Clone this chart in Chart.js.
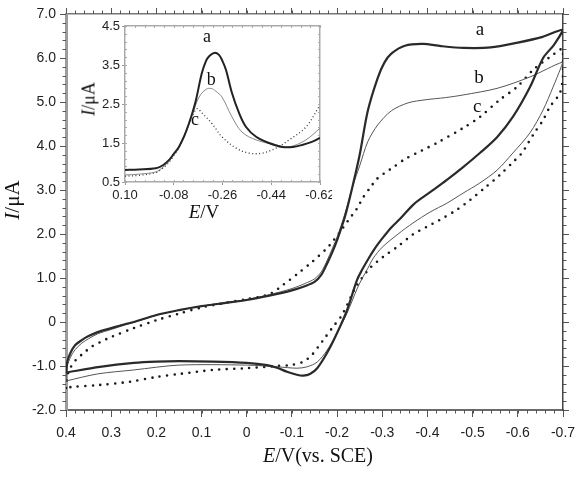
<!DOCTYPE html>
<html>
<head>
<meta charset="utf-8">
<script src="https://cdn.jsdelivr.net/npm/chart.js@4.4.0/dist/chart.umd.min.js"></script>
<style>
  body { margin: 0; background: #fff; }
  #wrap { position: relative; width: 576px; height: 478px; overflow: hidden; background: #fff; }
  #mainChart { position: absolute; left: 0; top: 0; }
  #insetChart { position: absolute; left: 70px; top: 20px; }
  .lbl { position: absolute; font-family: "Liberation Serif", "Times New Roman", serif; color: #111;
         white-space: nowrap; transform: translate(-50%, -50%); }
  .lbl i { font-style: italic; }
  .rot { transform: translate(-50%, -50%) rotate(-90deg); }
</style>
</head>
<body>
<div id="wrap">
  <canvas id="mainChart" width="576" height="478"></canvas>
  <canvas id="insetChart" width="262" height="210"></canvas>
  <div class="lbl" style="left:318px; top:455px; font-size:20px;"><i>E</i>/V(vs. SCE)</div>
  <div class="lbl rot" style="left:12px; top:200px; font-size:21px;"><i>I</i>/μA</div>
  <div class="lbl rot" style="left:89px; top:99px; font-size:18px;"><i>I</i>/μA</div>
  <div class="lbl" style="left:204px; top:212px; font-size:19px;"><i>E</i>/V</div>
</div>
<script>
// main CV curves, [E (V), I (uA)], forward scan then reverse scan
const curveA = [
  [0.400,-1.15],[0.397,-0.90],[0.390,-0.70],[0.380,-0.53],[0.365,-0.41],[0.350,-0.32],[0.330,-0.23],
  [0.300,-0.14],[0.270,-0.05],[0.250,0.00],[0.200,0.16],[0.150,0.27],[0.100,0.36],[0.050,0.43],
  [0.000,0.50],[-0.050,0.60],[-0.100,0.72],[-0.130,0.82],[-0.150,0.91],[-0.165,1.07],[-0.178,1.33],
  [-0.190,1.60],[-0.200,1.86],[-0.217,2.38],[-0.235,3.12],[-0.250,3.80],[-0.268,4.80],[-0.290,5.55],
  [-0.305,5.90],[-0.320,6.10],[-0.350,6.28],[-0.390,6.32],[-0.430,6.27],[-0.480,6.23],[-0.540,6.24],
  [-0.600,6.35],[-0.655,6.48],[-0.700,6.64],
  [-0.680,6.30],[-0.656,6.00],[-0.627,5.34],[-0.589,4.66],[-0.554,4.20],[-0.516,3.84],[-0.479,3.52],
  [-0.443,3.23],[-0.406,2.95],[-0.370,2.68],[-0.340,2.35],[-0.320,2.15],[-0.300,1.90],[-0.284,1.68],
  [-0.270,1.45],[-0.255,1.18],[-0.244,0.95],[-0.222,0.27],[-0.200,-0.25],[-0.178,-0.70],[-0.156,-1.05],
  [-0.140,-1.18],[-0.125,-1.22],[-0.111,-1.20],[-0.089,-1.13],[-0.067,-1.04],[-0.045,-0.98],[0.000,-0.93],
  [0.075,-0.90],[0.150,-0.89],[0.200,-0.90],[0.250,-0.93],[0.325,-1.02],[0.400,-1.15]
];
const curveB = [
  [0.400,-1.34],[0.397,-1.00],[0.390,-0.80],[0.380,-0.63],[0.365,-0.48],[0.350,-0.38],[0.330,-0.27],
  [0.300,-0.17],[0.270,-0.07],[0.250,-0.01],[0.200,0.15],[0.150,0.27],[0.100,0.36],[0.050,0.44],
  [0.000,0.51],[-0.050,0.62],[-0.100,0.76],[-0.130,0.88],[-0.150,0.98],[-0.165,1.14],[-0.178,1.40],
  [-0.190,1.68],[-0.200,1.93],[-0.217,2.45],[-0.235,3.10],[-0.250,3.55],[-0.268,4.10],[-0.290,4.48],
  [-0.320,4.80],[-0.357,4.98],[-0.395,5.05],[-0.440,5.10],[-0.479,5.16],[-0.554,5.31],[-0.627,5.57],
  [-0.700,5.91],
  [-0.695,5.77],[-0.678,5.34],[-0.656,4.82],[-0.627,4.30],[-0.589,3.84],[-0.554,3.45],[-0.516,3.16],
  [-0.479,2.93],[-0.443,2.70],[-0.406,2.50],[-0.368,2.25],[-0.335,2.00],[-0.300,1.70],[-0.280,1.45],
  [-0.268,1.22],[-0.255,0.98],[-0.244,0.75],[-0.222,0.20],[-0.200,-0.25],[-0.178,-0.64],[-0.156,-0.91],
  [-0.133,-1.02],[-0.111,-1.05],[-0.070,-1.02],[0.000,-0.98],[0.150,-0.98],[0.250,-1.09],[0.330,-1.18],
  [0.400,-1.34]
];
const curveC = [
  [0.400,-1.50],[0.398,-1.30],[0.393,-1.09],[0.378,-0.86],[0.360,-0.70],[0.345,-0.57],[0.325,-0.46],
  [0.300,-0.34],[0.250,-0.14],[0.200,0.04],[0.150,0.19],[0.100,0.33],[0.050,0.43],[0.000,0.52],
  [-0.050,0.63],[-0.080,0.84],[-0.113,1.10],[-0.144,1.36],[-0.178,1.68],[-0.191,1.84],[-0.206,2.04],
  [-0.224,2.30],[-0.244,2.58],[-0.257,2.82],[-0.273,3.05],[-0.288,3.25],[-0.306,3.39],[-0.322,3.50],
  [-0.350,3.70],[-0.388,3.90],[-0.421,4.07],[-0.479,4.41],[-0.516,4.66],[-0.560,5.05],[-0.598,5.34],
  [-0.634,5.73],[-0.671,6.02],[-0.700,6.20],
  [-0.700,5.60],[-0.693,5.20],[-0.671,4.89],[-0.656,4.59],[-0.638,4.32],[-0.623,4.07],[-0.609,3.84],
  [-0.594,3.68],[-0.560,3.34],[-0.527,3.05],[-0.494,2.77],[-0.465,2.55],[-0.427,2.32],[-0.398,2.16],
  [-0.368,1.99],[-0.335,1.72],[-0.302,1.48],[-0.273,1.23],[-0.255,1.00],[-0.240,0.77],[-0.211,0.16],
  [-0.191,-0.11],[-0.173,-0.36],[-0.158,-0.57],[-0.144,-0.75],[-0.124,-0.91],[-0.095,-0.98],[-0.067,-1.00],
  [0.000,-1.05],[0.075,-1.09],[0.148,-1.18],[0.200,-1.25],[0.260,-1.36],[0.325,-1.43],[0.390,-1.48],
  [0.400,-1.50]
];

// inset DPV curves
const dpvA = [
  [0.100,0.81],[0.050,0.82],[-0.014,0.85],[-0.040,0.93],[-0.062,1.06],[-0.080,1.22],[-0.099,1.40],
  [-0.120,1.70],[-0.136,2.00],[-0.150,2.30],[-0.162,2.60],[-0.184,3.30],[-0.200,3.62],[-0.210,3.72],
  [-0.229,3.81],[-0.247,3.76],[-0.260,3.60],[-0.273,3.37],[-0.295,2.78],[-0.321,2.27],[-0.347,1.91],
  [-0.384,1.66],[-0.432,1.50],[-0.480,1.40],[-0.520,1.40],[-0.554,1.45],[-0.590,1.53],[-0.620,1.63]
];
const dpvB = [
  [0.100,0.68],[0.050,0.70],[-0.014,0.76],[-0.040,0.88],[-0.062,1.02],[-0.080,1.20],[-0.099,1.38],
  [-0.120,1.68],[-0.136,1.98],[-0.150,2.25],[-0.165,2.55],[-0.180,2.75],[-0.200,2.88],[-0.218,2.90],
  [-0.235,2.83],[-0.258,2.68],[-0.295,2.17],[-0.332,1.78],[-0.384,1.58],[-0.458,1.45],[-0.506,1.40],
  [-0.568,1.58],[-0.620,1.88]
];
const dpvC = [
  [0.100,0.65],[0.050,0.67],[-0.014,0.74],[-0.040,0.86],[-0.062,1.00],[-0.080,1.18],[-0.099,1.38],
  [-0.120,1.70],[-0.136,2.00],[-0.150,2.22],[-0.166,2.38],[-0.184,2.27],[-0.221,2.00],[-0.258,1.66],
  [-0.310,1.37],[-0.358,1.24],[-0.406,1.24],[-0.458,1.37],[-0.506,1.58],[-0.568,1.91],[-0.620,2.47]
];

const xTickValues = [0.4, 0.3, 0.2, 0.1, 0, -0.1, -0.2, -0.3, -0.4, -0.5, -0.6, -0.7];
const xTickLabels = ['0.4','0.3','0.2','0.1','0','-0.1','-0.2','-0.3','-0.4','-0.5','-0.6','-0.7'];
const yTickValues = [7, 6, 5, 4, 3, 2, 1, 0, -1, -2];
const yTickLabels = ['7.0','6.0','5.0','4.0','3.0','2.0','1.0','0','-1.0','-2.0'];
const insetXTickValues = [0.10, -0.08, -0.26, -0.44, -0.62];
const insetXTickLabels = ['0.10','-0.08','-0.26','-0.44','-0.62'];
const insetYTickValues = [4.5, 3.5, 2.5, 1.5, 0.5];
const insetYTickLabels = ['4.5','3.5','2.5','1.5','0.5'];

const toXY = arr => arr.map(p => ({ x: p[0], y: p[1] }));

// small ticks between the labelled ones, drawn on the chart area edges
const minorTicks = {
  id: 'minorTicks',
  afterDraw(chart, args, opts) {
    const ctx = chart.ctx;
    const area = chart.chartArea;
    ctx.save();
    ctx.strokeStyle = opts.color;
    ctx.lineWidth = 1;
    opts.axes.forEach(a => {
      const s = chart.scales[a.scale];
      const n = Math.round((s.max - s.min) / a.step);
      for (let i = 0; i <= n; i++) {
        const p = Math.round(s.getPixelForValue(s.min + i * a.step)) + 0.5;
        ctx.beginPath();
        if (a.side === 'bottom') { ctx.moveTo(p, area.bottom); ctx.lineTo(p, area.bottom + a.len); }
        if (a.side === 'top') { ctx.moveTo(p, area.top); ctx.lineTo(p, area.top - a.len); }
        if (a.side === 'left') { ctx.moveTo(area.left, p); ctx.lineTo(area.left - a.len, p); }
        if (a.side === 'right') { ctx.moveTo(area.right, p); ctx.lineTo(area.right + a.len, p); }
        ctx.stroke();
      }
    });
    ctx.restore();
  }
};

// the a / b / c tags next to the curves
const curveLabels = {
  id: 'curveLabels',
  afterDatasetsDraw(chart, args, opts) {
    const ctx = chart.ctx;
    const x = chart.scales.x, y = chart.scales.y;
    ctx.save();
    ctx.font = opts.font;
    ctx.fillStyle = '#111';
    ctx.textAlign = 'center';
    ctx.textBaseline = 'middle';
    opts.items.forEach(it => ctx.fillText(it.text, x.getPixelForValue(it.e), y.getPixelForValue(it.i)));
    ctx.restore();
  }
};

function fixedSize(w, h) {
  return function(s) {
    if (w !== null) s.width = w;
    if (h !== null) s.height = h;
    s.paddingLeft = 0; s.paddingRight = 0; s.paddingTop = 0; s.paddingBottom = 0;
  };
}

function setTicks(values) {
  return function(s) { s.ticks = values.map(v => ({ value: v })); };
}

const tickFont = { family: '"Liberation Sans", Arial, sans-serif', size: 14 };

new Chart(document.getElementById('mainChart'), {
  type: 'scatter',
  data: {
    datasets: [
      { data: toXY(curveA), showLine: true, borderColor: '#2a2a2a', borderWidth: 2.2, pointRadius: 0, tension: 0.3 },
      { data: toXY(curveB), showLine: true, borderColor: '#555', borderWidth: 1, pointRadius: 0, tension: 0.3 },
      { data: toXY(curveC), showLine: true, borderColor: '#1a1a1a', borderWidth: 2.6, pointRadius: 0, tension: 0.3,
        borderDash: [0, 7.5], borderCapStyle: 'round' }
    ]
  },
  options: {
    responsive: false,
    animation: false,
    devicePixelRatio: 1,
    layout: { padding: 0 },
    plugins: {
      legend: { display: false },
      tooltip: { enabled: false },
      minorTicks: {
        color: '#555',
        axes: [
          { scale: 'x', side: 'bottom', step: 0.02, len: 3.5 },
          { scale: 'x', side: 'top', step: 0.02, len: 3.5 },
          { scale: 'y', side: 'left', step: 0.2, len: 3.5 },
          { scale: 'y', side: 'right', step: 0.2, len: 3.5 }
        ]
      },
      curveLabels: {
        font: '19px "Liberation Serif", "Times New Roman", serif',
        items: [
          { text: 'a', e: -0.516, i: 6.64 },
          { text: 'b', e: -0.514, i: 5.55 },
          { text: 'c', e: -0.51, i: 4.89 }
        ]
      }
    },
    scales: {
      x: {
        type: 'linear', position: 'bottom', min: -0.7, max: 0.4, reverse: true,
        afterBuildTicks: setTicks(xTickValues), afterFit: fixedSize(null, 68),
        ticks: { font: tickFont, color: '#222', padding: 8, maxRotation: 0,
                 callback: (v, i) => xTickLabels[i] },
        grid: { drawOnChartArea: false, tickLength: 7, tickColor: '#555' },
        border: { color: '#6a6a6a', width: 2 }
      },
      x2: {
        type: 'linear', position: 'top', min: -0.7, max: 0.4, reverse: true,
        afterBuildTicks: setTicks(xTickValues), afterFit: fixedSize(null, 14),
        ticks: { display: false },
        grid: { drawOnChartArea: false, tickLength: 6, tickColor: '#555' },
        border: { color: '#777', width: 1.5 }
      },
      y: {
        type: 'linear', position: 'left', min: -2, max: 7,
        afterBuildTicks: setTicks(yTickValues), afterFit: fixedSize(66, null),
        ticks: { font: tickFont, color: '#222', padding: 4,
                 callback: (v, i) => yTickLabels[i] },
        grid: { drawOnChartArea: false, tickLength: 6, tickColor: '#555' },
        border: { color: '#9c9c9c', width: 3 }
      },
      y2: {
        type: 'linear', position: 'right', min: -2, max: 7,
        afterBuildTicks: setTicks(yTickValues), afterFit: fixedSize(13, null),
        ticks: { display: false },
        grid: { drawOnChartArea: false, tickLength: 6, tickColor: '#555' },
        border: { color: '#444', width: 1.5 }
      }
    }
  },
  plugins: [minorTicks, curveLabels]
});

const insetFont = { family: '"Liberation Sans", Arial, sans-serif', size: 13 };

new Chart(document.getElementById('insetChart'), {
  type: 'scatter',
  data: {
    datasets: [
      { data: toXY(dpvA), showLine: true, borderColor: '#222', borderWidth: 2, pointRadius: 0, tension: 0.35 },
      { data: toXY(dpvB), showLine: true, borderColor: '#888', borderWidth: 1, pointRadius: 0, tension: 0.35 },
      { data: toXY(dpvC), showLine: true, borderColor: '#333', borderWidth: 1.3, pointRadius: 0, tension: 0.35,
        borderDash: [1, 2.5] }
    ]
  },
  options: {
    responsive: false,
    animation: false,
    devicePixelRatio: 1,
    layout: { padding: 0 },
    plugins: {
      legend: { display: false },
      tooltip: { enabled: false },
      minorTicks: {
        color: '#aaa',
        axes: [
          { scale: 'x', side: 'bottom', step: 0.036, len: -2 },
          { scale: 'x', side: 'top', step: 0.036, len: -2 },
          { scale: 'y', side: 'left', step: 0.2, len: -2 },
          { scale: 'y', side: 'right', step: 0.2, len: -2 }
        ]
      },
      curveLabels: {
        font: '18px "Liberation Serif", "Times New Roman", serif',
        items: [
          { text: 'a', e: -0.203, i: 4.22 },
          { text: 'b', e: -0.218, i: 3.12 },
          { text: 'c', e: -0.158, i: 2.09 }
        ]
      }
    },
    scales: {
      x: {
        type: 'linear', position: 'bottom', min: -0.62, max: 0.10, reverse: true,
        afterBuildTicks: setTicks(insetXTickValues), afterFit: fixedSize(null, 48),
        ticks: { font: insetFont, color: '#222', padding: 3, maxRotation: 0,
                 callback: (v, i) => insetXTickLabels[i] },
        grid: { drawOnChartArea: false, tickLength: 3, tickColor: '#999' },
        border: { color: '#aaa', width: 1.5 }
      },
      x2: {
        type: 'linear', position: 'top', min: -0.62, max: 0.10, reverse: true,
        afterFit: fixedSize(null, 6),
        ticks: { display: false },
        grid: { display: false },
        border: { color: '#aaa', width: 1.5 }
      },
      y: {
        type: 'linear', position: 'left', min: 0.5, max: 4.5,
        afterBuildTicks: setTicks(insetYTickValues), afterFit: fixedSize(55, null),
        ticks: { font: insetFont, color: '#222', padding: 2,
                 callback: (v, i) => insetYTickLabels[i] },
        grid: { drawOnChartArea: false, tickLength: 3, tickColor: '#999' },
        border: { color: '#aaa', width: 1.5 }
      },
      y2: {
        type: 'linear', position: 'right', min: 0.5, max: 4.5,
        afterFit: fixedSize(12, null),
        ticks: { display: false },
        grid: { display: false },
        border: { color: '#aaa', width: 1.5 }
      }
    }
  },
  plugins: [minorTicks, curveLabels]
});
</script>
</body>
</html>
